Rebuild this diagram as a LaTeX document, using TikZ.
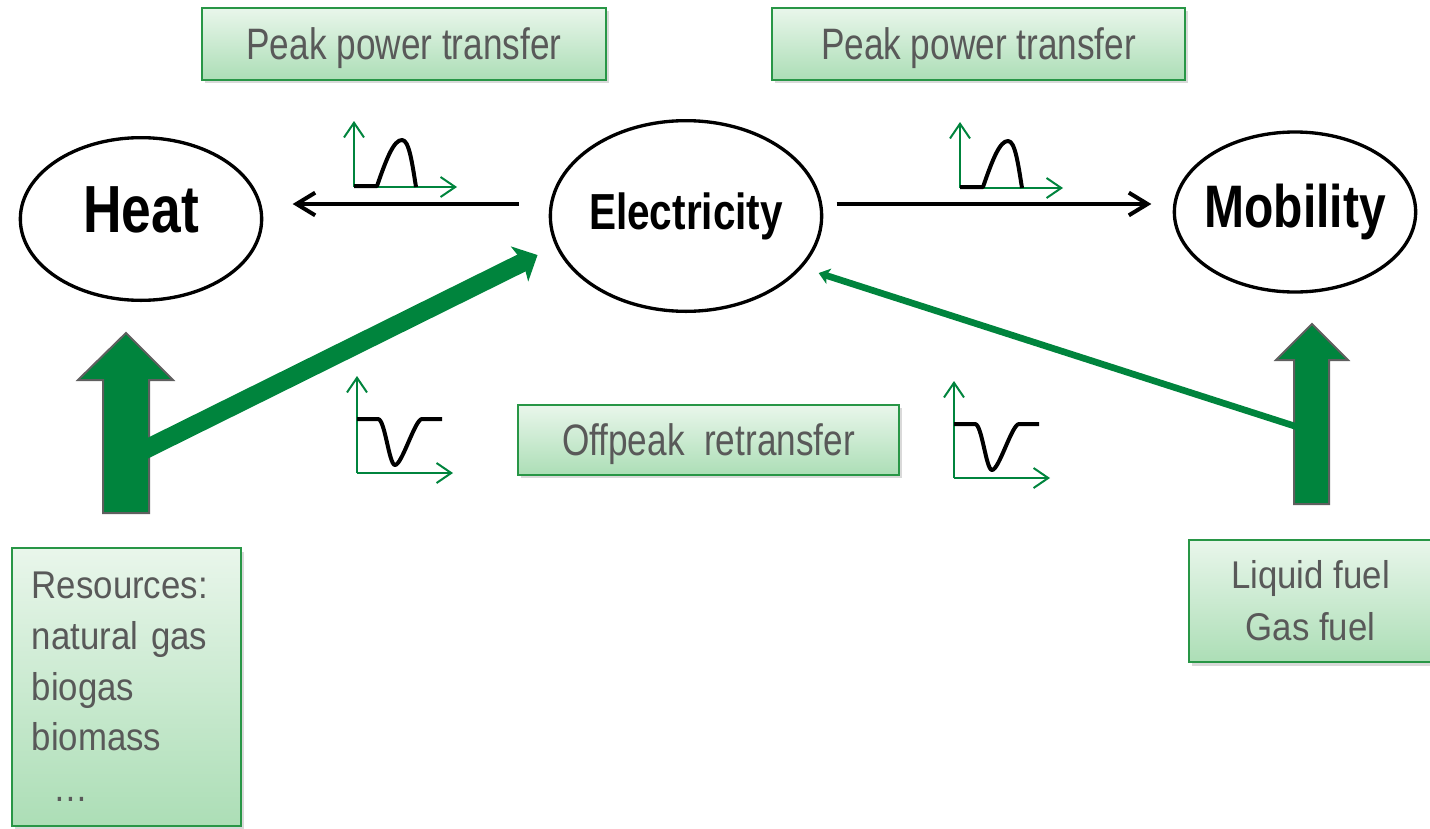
\documentclass[tikz,border=0pt]{standalone}
\usepackage{fontspec}
\setmainfont{Liberation Sans}
\newfontfamily\narrow[FakeStretch=0.8]{Liberation Sans}
\newfontfamily\wide[FakeStretch=0.9]{Liberation Sans}
\usetikzlibrary{shapes.geometric,arrows.meta,shadows}
\definecolor{leaf}{RGB}{0,132,61}
\definecolor{boxline}{RGB}{40,150,70}
\definecolor{boxtop}{RGB}{233,246,235}
\definecolor{boxbot}{RGB}{172,222,182}
\definecolor{txt}{RGB}{89,89,89}
\definecolor{rim}{RGB}{95,95,95}
\begin{document}
\begin{tikzpicture}[x=0.75pt,y=-0.75pt]
  \tikzstyle{oval}=[draw,ellipse,line width=2.5pt,inner sep=-8pt,font=\narrow\bfseries]
  \tikzstyle{gbox}=[draw=boxline,line width=1.5pt,top color=boxtop,bottom color=boxbot,text=txt,inner sep=0pt,drop shadow={shadow xshift=2pt,shadow yshift=-2.5pt,opacity=0.3}]
  \tikzstyle{blk}=[line width=3pt,-{Straight Barb[length=14pt,width=17pt]}]
  \tikzstyle{ax}=[leaf,line width=1.5pt,-{Straight Barb[length=11pt,width=15pt]}]
  \tikzstyle{sig}=[line width=3pt,line join=round]
  \tikzstyle{fat}=[fill=leaf,draw=rim,line width=1.5pt]
  \useasboundingbox (0,0) rectangle (1430,828);
  \node[oval,minimum width=181pt,minimum height=122pt,text depth=14pt] (heat) at (141,219) {\fontsize{50}{50}\selectfont Heat};
  \node[oval,minimum width=203.5pt,minimum height=143pt] (elec) at (686,216) {\fontsize{38}{40}\selectfont Electricity};
  \node[oval,minimum width=181pt,minimum height=120pt] (mob) at (1295,212) {\fontsize{45}{46}\selectfont Mobility};
  \node[gbox,minimum width=303pt,minimum height=54pt,text depth=0pt,font=\narrow\fontsize{33}{36}\selectfont] (peakl) at (404,44) {Peak power transfer};
  \node[gbox,minimum width=310pt,minimum height=54pt,text depth=0pt,font=\narrow\fontsize{33}{36}\selectfont] (peakr) at (978.5,44) {Peak power transfer};
  \node[gbox,minimum width=286pt,minimum height=52.5pt,text depth=0pt,font=\narrow\fontsize{33}{36}\selectfont] (offpk) at (708.5,440) {Offpeak\ \ retransfer};
  \node[gbox,minimum width=172pt,minimum height=208pt,text width=142pt,align=left,font=\wide\fontsize{29}{38}\selectfont] (res) at (126.5,687) {Resources:\\natural gas\\biogas\\biomass\\\hspace*{16pt}…};
  \node[gbox,minimum width=182pt,minimum height=92pt,align=center,font=\wide\fontsize{29}{39}\selectfont] (fuel) at (1310.5,601) {Liquid fuel\\Gas fuel};
  \foreach \px/\py in {354/187,960/188}{
    \begin{scope}[shift={(\px,\py)}]
      \draw[ax] (0,0) -- (0,-66);
      \draw[ax] (0,0) -- (103,0);
      \draw[sig] (0,-1) -- (23,-1) .. controls (33,-30) and (40,-47) .. (48,-47) .. controls (55,-47) and (58,-25) .. (62,0);
    \end{scope}}
  \foreach \px/\py in {357/473,954/478}{
    \begin{scope}[shift={(\px,\py)}]
      \draw[ax] (0,0) -- (0,-97);
      \draw[ax] (0,0) -- (96,0);
      \draw[sig] (0,-54) -- (21,-54) .. controls (28,-54) and (32,-8) .. (38,-8) .. controls (45,-8) and (58,-54) .. (65,-54) -- (85,-54);
    \end{scope}}
  \draw[fat] (103,513) -- (103,380) -- (78,380) -- (126,333) -- (173,380) -- (149,380) -- (149,513) -- cycle;
  \draw[fat] (1294,504) -- (1294,360) -- (1276,360) -- (1312,324) -- (1348,360) -- (1329,360) -- (1329,504) -- cycle;
  \coordinate (heatfoot) at (130,457);
  \coordinate (mobfoot) at (1310,431);
  \draw[leaf,line width=14pt,-{Stealth[length=15pt,width=29pt,inset=3pt]},shorten >=15pt] (heatfoot) -- (elec.193);
  \draw[leaf,line width=5pt,-{Stealth[length=8pt,width=12pt,inset=2pt]},shorten >=13pt] (mobfoot) -- (elec.-24);
  \draw[blk,shorten <=22.5pt,shorten >=22pt] ([yshift=9pt]elec.west) -- ([yshift=11.25pt]heat.east);
  \draw[blk,shorten <=10pt,shorten >=16pt] ([yshift=9pt]elec.east) -- ([yshift=6pt]mob.west);
\end{tikzpicture}
\end{document}
